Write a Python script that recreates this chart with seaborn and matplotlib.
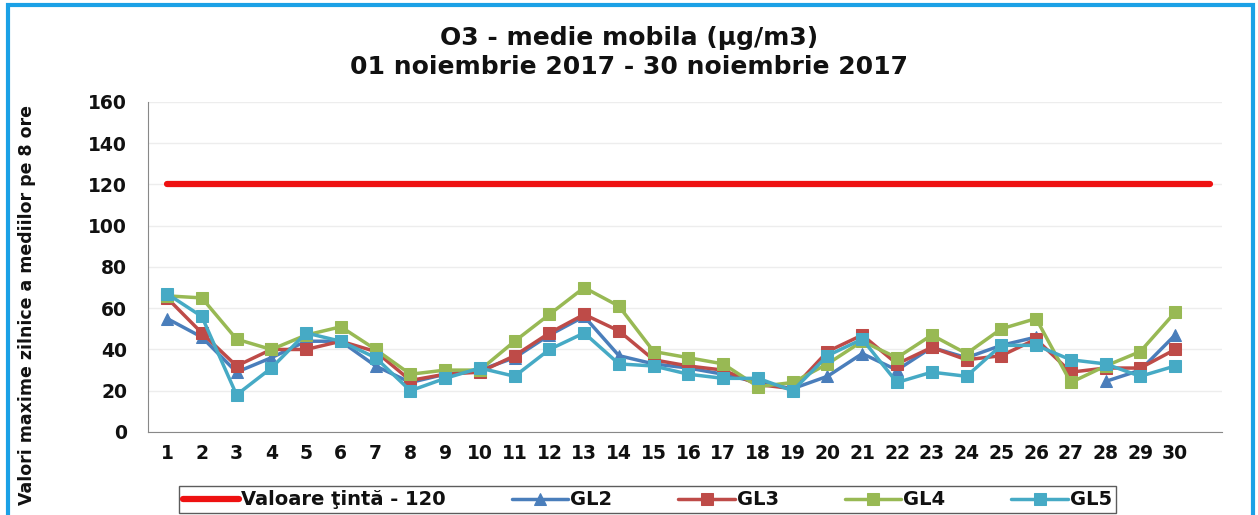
import numpy as np
import pandas as pd
import matplotlib
matplotlib.use("Agg")
import matplotlib.pyplot as plt
from matplotlib.patches import Rectangle
import seaborn as sns

# date
days = list(range(1, 31))
gl2 = [55, 46, 29, 36, 44, 44, 32, 24, 28, 30, 36, 47, 56, 37, 33, 31, 28, 24, 21, 27,
       38, 30, 41, 36, 42, 46, np.nan, 24.5, 30, 47]
gl3 = [65, 48, 32, 40, 40, 44, 39, 25, 28, 29, 37, 48, 57, 49, 35, 32, 30, 23, 21, 39,
       47, 33, 41, 35, 37, 45, 29, 31, 31, 40]
gl4 = [66, 65, 45, 40, 47, 51, 40, 28, 30, 30, 44, 57, 70, 61, 39, 36, 33, 22, 24, 33,
       44, 36, 47, 38, 50, 55, 24, 32, 39, 58]
gl5 = [67, 56, 18, 31, 48, 44, 36, 20, 26, 31, 27, 40, 48, 33, 32, 28, 26, 26, 20, 37,
       45, 24, 29, 27, 42, 42, 35, 33, 27, 32]
target_days = list(range(1, 32))
target_value = 120

sns.set_style("white")
plt.rcParams['font.family'] = ['DejaVu Sans']
plt.rcParams['text.color'] = '#111111'
plt.rcParams['axes.labelcolor'] = '#111111'
plt.rcParams['xtick.color'] = '#111111'
plt.rcParams['ytick.color'] = '#111111'

fig = plt.figure(figsize=(12.58, 5.15), dpi=100)
ax = fig.add_axes([0.1176, 0.1612, 0.8538, 0.6408])

# linia rosie - valoare tinta
sns.lineplot(x=target_days, y=[target_value] * len(target_days), ax=ax, color="#EE1111",
             linewidth=4.5, solid_capstyle="round", label="Valoare ţintă - 120")

series = [("GL2", gl2, "#4A7EBB", "^"),
          ("GL3", gl3, "#BE4B48", "s"),
          ("GL4", gl4, "#98B954", "s"),
          ("GL5", gl5, "#46AAC5", "s")]
for name, vals, col, mk in series:
    df = pd.DataFrame({"zi": days, "val": vals})
    # segmente separate ca sa ramana golul la valorile lipsa
    ok = df["val"].notna()
    grp = (~ok).cumsum()
    first = True
    for _, seg in df[ok].groupby(grp[ok]):
        sns.lineplot(data=seg, x="zi", y="val", ax=ax, color=col, linewidth=2.5,
                     marker=mk, markersize=8.5, markeredgecolor=col,
                     label=name if first else None)
        first = False

ax.set_xlim(0.45, 31.35)
ax.set_ylim(0, 160)
ax.set_yticks(range(0, 161, 20))
ax.set_xticks(range(1, 31))
ax.set_xticklabels([str(d) for d in range(1, 31)])
ax.tick_params(axis="both", labelsize=13.5, length=0)
ax.tick_params(axis="y", pad=15)
ax.tick_params(axis="x", pad=9)
for t in ax.get_xticklabels() + ax.get_yticklabels():
    t.set_fontweight("bold")
ax.yaxis.grid(True, color="#EDEDED", linewidth=1)
ax.set_axisbelow(True)
for s in ["top", "right"]:
    ax.spines[s].set_visible(False)
ax.spines["left"].set_color("#888888")
ax.spines["bottom"].set_color("#888888")
ax.set_xlabel("")
ax.set_ylabel("Valori maxime zilnice a mediilor pe 8 ore", fontsize=12.5,
              fontweight="bold")
ax.yaxis.set_label_coords(-0.104, 0.385)

fig.text(0.5, 1 - 38 / 515, "O3 - medie mobila (µg/m3)", ha="center", va="center",
         fontsize=18, fontweight="bold")
fig.text(0.5, 1 - 67 / 515, "01 noiembrie 2017 - 30 noiembrie 2017", ha="center",
         va="center", fontsize=18, fontweight="bold")

leg = ax.legend(loc="upper center", bbox_to_anchor=(0.465, -0.165), ncol=5,
                frameon=True, fancybox=False, edgecolor="#333333",
                prop={"weight": "bold", "size": 14}, handlelength=2.9,
                columnspacing=3.4, borderpad=0.2, handletextpad=0.1,
                borderaxespad=0)
leg.get_frame().set_linewidth(1)

# chenarul albastru
fig.patches.append(Rectangle((0.006, -0.02), 0.99, 1.01, transform=fig.transFigure,
                             fill=False, edgecolor="#1BA1E6", linewidth=3))

fig.savefig("out.png", dpi=100)
